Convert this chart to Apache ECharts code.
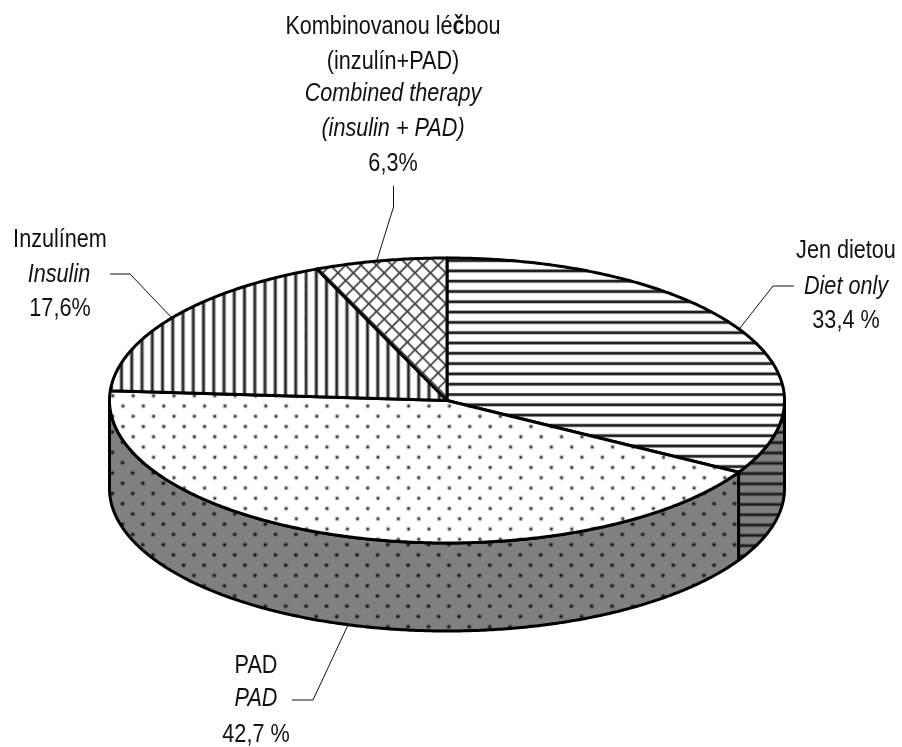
<!DOCTYPE html>
<html><head><meta charset="utf-8">
<style>html,body{margin:0;padding:0;background:#fff}#c{width:902px;height:747px}</style>
<script src="https://cdn.jsdelivr.net/npm/echarts@6/dist/echarts.min.js"></script>
</head><body><div id="c"></div>
<script>
const categories = ['Jen dietou', 'PAD', 'Inzulínem', 'Kombinovanou léčbou'];
const values = [33.4, 42.7, 17.6, 6.3];
const valueLabels = ['33,4 %', '42,7 %', '17,6%', '6,3%'];
const labelDiet = ['Jen dietou', 'Diet only', '33,4 %'];
const labelPad = ['PAD', 'PAD', '42,7 %'];
const labelInsulin = ['Inzulínem', 'Insulin', '17,6%'];
const labelCombined = ['Kombinovanou lé{b|č}bou', '(inzulín+PAD)', 'Combined therapy', '(insulin + PAD)', '6,3%'];

const CX = 447, CY = 400.5, RX = 337.5, RY = 142.5, DEPTH = 88;
const FONT = '"Liberation Sans",Arial,sans-serif';
const FS = 25, SX = 0.865;

function tile(w, h, draw) {
  const c = document.createElement('canvas');
  c.width = w; c.height = h;
  const g = c.getContext('2d');
  draw(g, w, h);
  return c;
}
function pat(canvas, x, y) {
  return { image: canvas, repeat: 'repeat', x: x, y: y };
}
function hLines(n, bg, dark) {
  const period = 10.3;
  return tile(4, Math.round(period * n), (g, w, h) => {
    g.fillStyle = bg; g.fillRect(0, 0, w, h);
    const p = h / n;
    for (let i = 0; i < n; i++) {
      g.fillStyle = 'rgba(70,70,70,0.4)'; g.fillRect(0, i * p - 0.5, w, 4);
      g.fillStyle = dark; g.fillRect(0, i * p + 0.3, w, 2.4);
    }
  });
}
function vLines(n, bg, dark) {
  const period = 10.27;
  return tile(Math.round(period * n), 4, (g, w, h) => {
    g.fillStyle = bg; g.fillRect(0, 0, w, h);
    const p = w / n;
    for (let i = 0; i < n; i++) {
      g.fillStyle = 'rgba(70,70,70,0.4)'; g.fillRect(i * p - 0.5, 0, 4, h);
      g.fillStyle = dark; g.fillRect(i * p + 0.3, 0, 2.4, h);
    }
  });
}
function dots(nx, ny, bg, dark, halo) {
  return tile(Math.round(20.4 * nx), Math.round(20.5 * ny), (g, w, h) => {
    g.fillStyle = bg; g.fillRect(0, 0, w, h);
    const px = w / nx, py = h / ny;
    for (let j = 0; j <= 2 * ny; j++) for (let i = -1; i <= nx; i++) {
      const x = (i + (j % 2 ? 0.5 : 0)) * px, y = j * py / 2;
      g.fillStyle = halo; g.beginPath(); g.arc(x, y, 2.4, 0, 7); g.fill();
      g.fillStyle = dark; g.beginPath(); g.arc(x, y, 1.25, 0, 7); g.fill();
    }
  });
}
function cross(n) {
  const s = Math.round(15.4 * n);
  return tile(s, s, (g, w, h) => {
    g.fillStyle = '#fff'; g.fillRect(0, 0, w, h);
    g.strokeStyle = '#444'; g.lineWidth = 1.8;
    const p = w / n;
    for (let k = -2 * n; k <= 2 * n; k++) {
      g.beginPath(); g.moveTo(0, k * p); g.lineTo(w, k * p + w); g.stroke();
      g.beginPath(); g.moveTo(0, k * p); g.lineTo(w, k * p - w); g.stroke();
    }
  });
}
const fills = [
  pat(hLines(20, '#fff', '#222'), 0, 393),
  pat(dots(10, 10, '#fff', '#222', 'rgba(90,90,90,0.35)'), 418.7, 457.3),
  pat(vLines(20, '#fff', '#222'), 304.5, 0),
  pat(cross(10), 415, 288.3)
];
const sideFills = [
  pat(hLines(20, '#808080', '#1a1a1a'), 0, 420.5),
  pat(dots(10, 10, '#808080', '#111', 'rgba(30,30,30,0.4)'), 418.3, 555),
  null, null
];

function pt(deg, dy) {
  const a = deg * Math.PI / 180;
  return [CX + RX * Math.sin(a), CY - RY * Math.cos(a) + (dy || 0)];
}
const total = values.reduce((a, b) => a + b, 0);
function renderSlice(params, api) {
  const i = api.value(0);
  const start = values.slice(0, i).reduce((a, b) => a + b, 0) / total * 360;
  const end = start + api.value(1) / total * 360;
  const children = [];
  const sideA = Math.max(start, 90), sideB = Math.min(end, 270);
  if (sideB > sideA && sideFills[i]) {
    const top = [], bottom = [];
    for (let d = sideA; d < sideB; d += 0.5) { top.push(pt(d)); bottom.unshift(pt(d, DEPTH)); }
    top.push(pt(sideB)); bottom.unshift(pt(sideB, DEPTH));
    children.push({ type: 'polygon', shape: { points: top.concat(bottom) },
      style: { fill: sideFills[i], stroke: '#000', lineWidth: 3, lineJoin: 'round' } });
  }
  const pts = [[CX, CY]];
  for (let d = start; d < end; d += 0.5) pts.push(pt(d));
  pts.push(pt(end));
  children.push({ type: 'polygon', shape: { points: pts },
    style: { fill: fills[i], stroke: '#000', lineWidth: 3, lineJoin: 'round' } });
  return { type: 'group', children: children };
}

function textEl(str, x, y, italic) {
  return { type: 'text', silent: true, x: x, y: y, scaleX: SX, style: {
    text: str, x: 0, y: 0, align: 'center', verticalAlign: 'middle', fill: '#111',
    font: (italic ? 'italic ' : '') + FS + 'px ' + FONT,
    rich: { b: { fontFamily: 'Liberation Sans', fontSize: FS, fontWeight: 'bold', fill: '#111', verticalAlign: 'middle' } }
  } };
}
function leader(pts) {
  return { type: 'polyline', silent: true, shape: { points: pts }, style: { stroke: '#111', lineWidth: 1, fill: null } };
}
const graphics = [
  textEl(labelCombined[0], 393, 27), textEl(labelCombined[1], 393, 62),
  textEl(labelCombined[2], 393, 94, true), textEl(labelCombined[3], 393, 129, true), textEl(labelCombined[4], 393, 164),
  textEl(labelInsulin[0], 60, 240), textEl(labelInsulin[1], 59, 275, true), textEl(labelInsulin[2], 60, 309),
  textEl(labelDiet[0], 846, 251), textEl(labelDiet[1], 846, 287, true), textEl(labelDiet[2], 846, 321),
  textEl(labelPad[0], 256, 666), textEl(labelPad[1], 256, 699, true), textEl(labelPad[2], 256, 735),
  leader([[393.5, 186], [393.5, 207], [377, 260]]),
  leader([[110, 274], [130, 274], [172, 318]]),
  leader([[794, 286], [773, 286], [740, 328]]),
  leader([[292, 700], [313, 700], [348, 625]])
];

const chart = echarts.init(document.getElementById('c'), null, { renderer: 'canvas', width: 902, height: 747 });
chart.setOption({
  animation: false,
  backgroundColor: '#fff',
  series: [{
    type: 'custom', coordinateSystem: 'none', silent: true,
    renderItem: renderSlice,
    data: values.map((v, i) => ({ name: categories[i], value: [i, v] }))
  }],
  graphic: graphics
});
</script></body></html>
